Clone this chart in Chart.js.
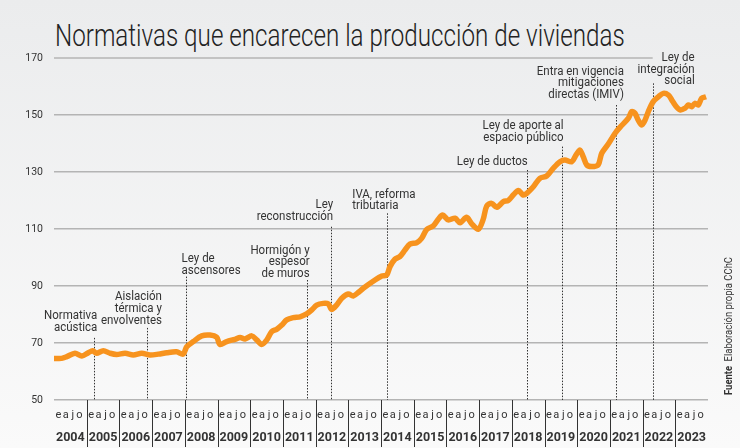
<!DOCTYPE html>
<html lang="es">
<head>
<meta charset="utf-8">
<title>Normativas que encarecen la producción de viviendas</title>
<script src="https://cdn.jsdelivr.net/npm/chart.js@4.4.1/dist/chart.umd.min.js"></script>
<style>
  html, body { margin: 0; padding: 0; }
  body {
    width: 740px; height: 448px; overflow: hidden; position: relative;
    background: linear-gradient(#ebeced, #fafafa);
    font-family: Roboto, sans-serif;
  }
  #titulo {
    position: absolute; left: 55px; top: 19px;
    font-size: 32px; font-weight: 300; line-height: 1; color: #222;
    white-space: nowrap; transform-origin: 0 0;
  }
  canvas { position: absolute; left: 0; top: 0; }
</style>
</head>
<body>
<div id="titulo">Normativas que encarecen la producción de viviendas</div>
<canvas id="grafico" width="740" height="448"></canvas>

<script>
/* ========== DATOS ========== */

// meses desde enero 2004 (0 = ene 2004, 240 = ene 2024)
const meses = [
    0, 2.8, 4.7, 7.7, 10.2, 12.6, 14.2, 15.6, 18.1, 20.6, 23.0, 26.1, 29.1, 32.2, 35.2,
    38.3, 41.4, 45.0, 47.4, 48.7, 51.1, 54.2, 57.2, 59.7, 60.9, 63.4, 66.4, 68.3, 70.1,
    72.6, 74.4, 76.2, 78.1, 79.9, 81.7, 83.6, 85.4, 87.8, 90.3, 92.7, 94.6, 96.4, 98.8,
    100.7, 101.9, 103.7, 105.6, 108.0, 109.8, 112.0, 113.5, 117.8, 120.3, 122.1, 123.3,
    125.1, 126.9, 128.8, 130.6, 133.1, 134.9, 136.8, 139.2, 141.0, 142.6, 144.7, 147.2,
    149.0, 151.4, 153.3, 155.7, 157.5, 158.8, 160.6, 162.5, 164.9, 166.7, 168.6, 170.4,
    172.2, 173.5, 175.9, 178.3, 180.8, 183.2, 185.7, 187.5, 190.0, 191.6, 193.0, 194.2,
    195.5, 197.3, 199.7, 201.0, 203.4, 205.9, 208.3, 210.8, 212.0, 213.2, 214.4, 215.7,
    216.9, 218.1, 219.9, 221.8, 223.6, 225.5, 226.7, 227.9, 229.8, 231.6, 232.8, 234.0,
    235.2, 236.4, 237.7, 239.3
];

const indice = [
    64.6, 64.6, 65.2, 66.4, 65.4, 66.6, 67.3, 66.4, 67.3, 66.4, 66.0, 66.4, 65.8, 66.4, 65.8,
    66.1, 66.6, 66.9, 66.1, 68.7, 70.5, 72.5, 72.8, 72.0, 69.5, 70.5, 71.3, 71.9, 71.4,
    72.5, 71.1, 69.5, 71.1, 74.0, 74.8, 76.3, 78.1, 78.9, 79.2, 80.2, 81.6, 83.3, 83.9,
    83.7, 81.8, 83.3, 85.7, 87.2, 86.5, 88.0, 89.2, 92.1, 93.5, 93.9, 96.8,
    99.4, 100.3, 102.6, 104.7, 105.2, 106.7, 109.9, 111.1, 113.4, 114.9, 113.2, 113.8,
    112.2, 114.1, 111.8, 109.9, 113.4, 118.1, 119.0, 117.6, 119.6, 120.0, 122.0, 123.5,
    121.9, 122.5, 124.8, 127.8, 128.6, 131.3, 133.6, 134.2, 133.6, 136.0, 137.7, 135.4,
    132.5, 131.9, 132.5, 136.6, 139.8, 143.6, 146.3, 148.9, 151.2, 150.6, 148.2, 146.5,
    148.2, 151.2, 154.7, 156.4, 157.6, 157.0, 155.3, 153.5, 151.8, 152.4, 153.5, 152.9,
    154.1, 153.5, 155.9, 156.4
];

const anios = ["2004","2005","2006","2007","2008","2009","2010","2011","2012","2013",
               "2014","2015","2016","2017","2018","2019","2020","2021","2022","2023"];
const letrasMes = ["e", "a", "j", "o"];
const ticksY = [50, 70, 90, 110, 130, 150, 170];

// hitos normativos: mes, fin superior de la línea punteada (valor del eje), texto
const hitosMes  = [14.8, 34.1, 48.3, 92.7, 101.7, 122.3, 173.5, 186.3, 206.2, 219.7];
const hitosTope = [71.8, 75.3, 93.3, 92.1, 110.8, 115.5, 130.7, 138.9, 153.5, 161.1];
const hitosTexto = [
    ["Normativa", "acústica"],
    ["Aislación", "térmica y", "envolventes"],
    ["Ley de", "ascensores"],
    ["Hormigón y", "espesor", "de muros"],
    ["Ley", "reconstrucción"],
    ["IVA, reforma", "tributaria"],
    ["Ley de ductos"],
    ["Ley de aporte al", "espacio público"],
    ["Entra en vigencia", "mitigaciones", "directas (IMIV)"],
    ["Ley de", "integración", "social"]
];

/* ========== ESTILO ========== */

const NARANJA = "#f7931e";
const GRILLA = "#b4b4b4";
const TEXTO = "#333";

// colocación de cada rótulo respecto a su línea punteada
const rotulos = [
    { dx: 3,   align: "right", dy: -10 },
    { dx: 15,  align: "right", dy: -7 },
    { dx: -4,  align: "left",  dy: -6 },
    { dx: 3,   align: "right", dy: -6 },
    { dx: 2,   align: "right", dy: -10 },
    { dx: -35, align: "left",  dy: -7 },
    { dx: 1,   align: "right", dy: -8 },
    { dx: 2,   align: "right", dy: -9 },
    { dx: 8,   align: "right", dy: -10 },
    { dx: 42,  align: "right", dy: -2 }
];
const posLetras = [1.6, 4.3, 6.9, 9.3];

/* ========== TÍTULO ========== */

const titulo = document.getElementById("titulo");
titulo.style.transform = `scaleX(${570 / titulo.scrollWidth})`;

/* ========== PLUGIN DE DECORADO ========== */

const decorado = {
    id: "decorado",

    beforeDatasetsDraw(chart) {
        const { ctx, chartArea, scales: { x, y } } = chart;
        ctx.save();

        // línea de 170, cortada antes del último rótulo
        const y170 = y.getPixelForValue(170);
        ctx.strokeStyle = GRILLA;
        ctx.lineWidth = 1.5;
        ctx.beginPath();
        ctx.moveTo(chartArea.left, y170);
        ctx.lineTo(x.getPixelForValue(hitosMes[9]), y170);
        ctx.stroke();

        // líneas punteadas de los hitos
        ctx.strokeStyle = TEXTO;
        ctx.lineWidth = 1;
        ctx.setLineDash([1.5, 1.5]);
        hitosMes.forEach((m, i) => {
            const px = Math.round(x.getPixelForValue(m)) + 0.5;
            ctx.beginPath();
            ctx.moveTo(px, y.getPixelForValue(hitosTope[i]));
            ctx.lineTo(px, chartArea.bottom);
            ctx.stroke();
        });
        ctx.restore();
    },

    afterDraw(chart) {
        const { ctx, chartArea, scales: { x, y } } = chart;
        ctx.save();
        ctx.fillStyle = TEXTO;

        // rótulos de los hitos
        ctx.font = "12.5px Roboto";
        ctx.textBaseline = "middle";
        hitosMes.forEach((m, i) => {
            const r = rotulos[i];
            const lineas = hitosTexto[i];
            const px = x.getPixelForValue(m) + r.dx;
            const yUltima = y.getPixelForValue(hitosTope[i]) + r.dy;
            ctx.textAlign = r.align;
            lineas.forEach((t, k) => {
                const py = yUltima - (lineas.length - 1 - k) * 11.8;
                ctx.save();
                ctx.translate(px, py);
                ctx.scale(0.92, 1);
                ctx.fillText(t, 0, 0);
                ctx.restore();
            });
        });

        // eje X: letras de meses, años y separadores
        const base = chartArea.bottom;
        ctx.textAlign = "center";
        anios.forEach((a, i) => {
            const m0 = i * 12;
            ctx.font = "11px Roboto";
            letrasMes.forEach((l, j) => {
                ctx.fillText(l, x.getPixelForValue(m0 + posLetras[j]), base + 15.5);
            });
            ctx.font = "bold 12.5px Roboto";
            ctx.fillText(a, x.getPixelForValue(m0 + 6), base + 38);
            if (i > 0) {
                const sx = Math.round(x.getPixelForValue(m0)) + 0.5;
                ctx.strokeStyle = TEXTO;
                ctx.lineWidth = 1;
                ctx.beginPath();
                ctx.moveTo(sx, base);
                ctx.lineTo(sx, base + 47);
                ctx.stroke();
            }
        });

        // fuente, vertical
        ctx.translate(729, 395);
        ctx.rotate(-Math.PI / 2);
        ctx.textAlign = "left";
        ctx.font = "bold 10.5px Roboto";
        const wF = ctx.measureText("Fuente").width + 5;
        ctx.font = "10.5px Roboto";
        const total = wF + ctx.measureText("Elaboración propia CChC").width;
        ctx.scale(Math.min(1, 138 / total), 1);
        ctx.font = "bold 10.5px Roboto";
        ctx.fillText("Fuente", 0, 0);
        ctx.font = "10.5px Roboto";
        ctx.fillText("Elaboración propia CChC", wF, 0);

        ctx.restore();
    }
};

/* ========== GRÁFICO ========== */

new Chart(document.getElementById("grafico"), {
    type: "line",
    data: {
        datasets: [{
            data: meses.map((m, i) => ({ x: m, y: indice[i] })),
            borderColor: NARANJA,
            borderWidth: 5.5,
            pointRadius: 0,
            tension: 0.3,
            fill: false
        }]
    },
    options: {
        responsive: false,
        animation: false,
        layout: { padding: { top: 58, right: 32, bottom: 48, left: 0 } },
        plugins: {
            legend: { display: false },
            tooltip: { enabled: false }
        },
        scales: {
            x: { type: "linear", min: 0, max: 240, display: false },
            y: {
                min: 50,
                max: 170,
                afterBuildTicks: s => { s.ticks = ticksY.map(v => ({ value: v })); },
                afterFit: s => { s.width = 54; },
                border: { display: false },
                grid: {
                    color: c => (c.tick && c.tick.value === 170 ? "rgba(0,0,0,0)" : GRILLA),
                    lineWidth: 1.5,
                    drawTicks: false
                },
                ticks: {
                    padding: 11,
                    color: TEXTO,
                    font: { family: "Roboto", size: 10.5 }
                }
            }
        }
    },
    plugins: [decorado]
});
</script>
</body>
</html>
